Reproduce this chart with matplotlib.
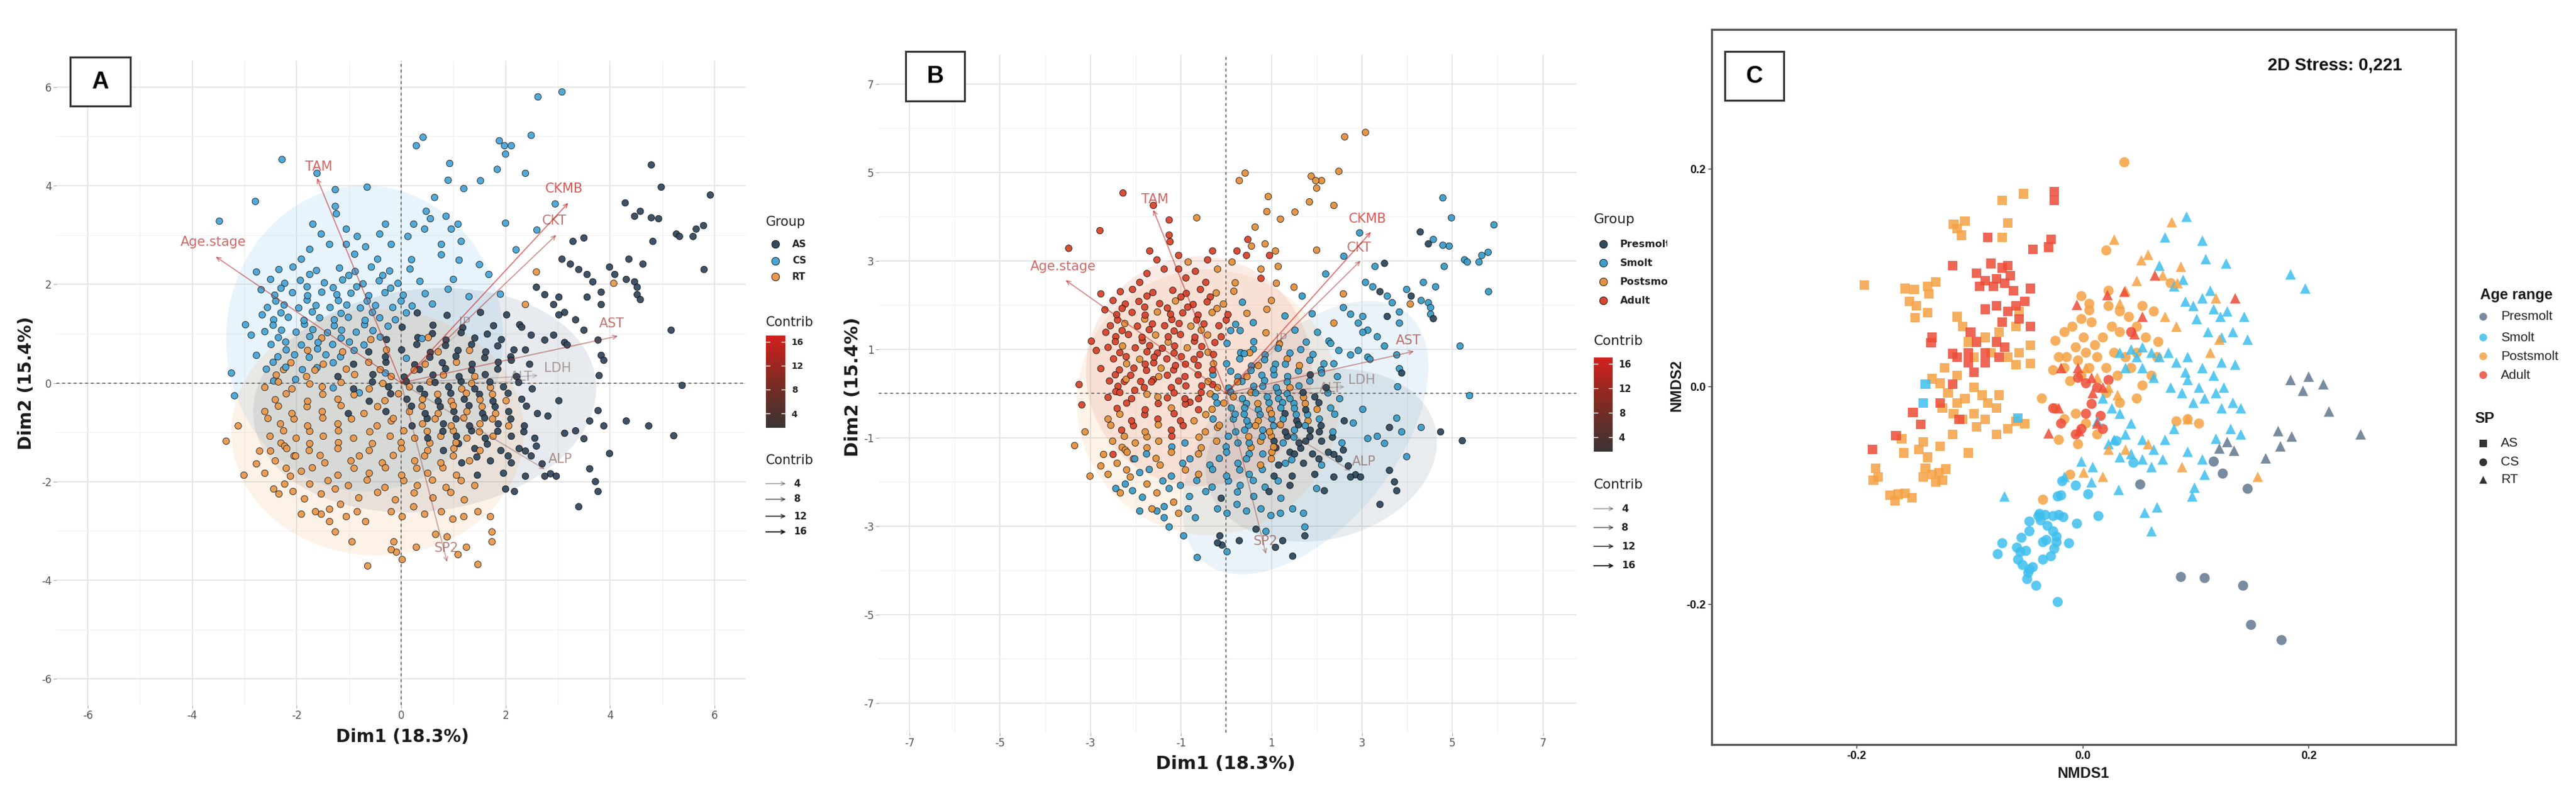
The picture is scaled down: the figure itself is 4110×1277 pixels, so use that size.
"""
Three-panel ordination figure: PCA biplot coloured by species (A), the same
PCA coloured by age stage (B) and an NMDS of the same fish (C).
Point coordinates were read off the published figure by eye.
"""
import numpy as np
import matplotlib
matplotlib.use("Agg")
import matplotlib.pyplot as plt
from matplotlib.patches import Ellipse, Rectangle
from matplotlib.colors import LinearSegmentedColormap, Normalize
from matplotlib.cm import ScalarMappable
from matplotlib.transforms import Bbox, TransformedBbox

plt.rcParams["axes.unicode_minus"] = False

# ---- PCA individuals: (Dim1, Dim2, age code) per species -----------------
# age codes: P = Presmolt, S = Smolt, O = Postsmolt, A = Adult
PCA_CS = [
    (-3.48, 3.28, 'A'), (-2.79, 3.68, 'A'), (-2.28, 4.53, 'A'), (-1.61, 4.25, 'A'),
    (-1.26, 3.92, 'A'), (-0.65, 3.97, 'O'), (-1.24, 3.43, 'A'), (-1.26, 3.58, 'A'),
    (-1.69, 3.22, 'A'), (-1.53, 3.02, 'A'), (-1.37, 2.81, 'A'), (-1.05, 3.12, 'A'),
    (-0.84, 2.97, 'O'), (-0.68, 2.76, 'A'), (-1.05, 2.81, 'A'), (-0.89, 2.61, 'A'),
    (-1.75, 2.71, 'A'), (-1.91, 2.51, 'A'), (-2.07, 2.35, 'A'), (-2.34, 2.30, 'A'),
    (-2.50, 2.10, 'A'), (-2.68, 1.89, 'A'), (-2.77, 2.25, 'A'), (-2.98, 1.18, 'A'),
    (-2.87, 0.97, 'A'), (-2.77, 0.56, 'A'), (-2.66, 1.38, 'A'), (-3.19, -0.26, 'A'),
    (-3.25, 0.20, 'A'), (-0.30, 3.22, 'A'), (-0.41, 3.02, 'A'), (-0.19, 2.81, 'O'),
    (-0.45, 2.51, 'A'),
    (0.29, 4.81, 'O'), (0.42, 4.98, 'O'), (0.93, 4.45, 'O'), (0.64, 3.76, 'O'),
    (0.90, 4.11, 'O'), (1.20, 3.94, 'O'), (1.52, 4.10, 'O'), (1.84, 4.33, 'O'),
    (1.88, 4.91, 'O'), (2.00, 4.64, 'O'), (1.98, 4.81, 'O'), (2.11, 4.81, 'O'),
    (2.38, 4.25, 'O'), (2.49, 5.02, 'O'), (2.62, 5.80, 'O'), (3.08, 5.90, 'O'),
    (2.95, 3.63, 'S'), (2.00, 3.24, 'O'), (1.68, 2.20, 'S'), (1.11, 2.49, 'O'),
    (0.77, 2.81, 'O'), (0.77, 2.60, 'A'), (1.15, 2.87, 'O'), (0.48, 3.48, 'A'),
    (0.56, 3.33, 'O'), (0.45, 3.12, 'A'), (0.86, 3.38, 'O'), (0.96, 3.12, 'A'),
    (1.09, 3.22, 'O'), (0.24, 3.22, 'A'), (0.13, 2.97, 'O'),
    (-1.62, 2.28, 'A'), (-1.18, 2.33, 'A'), (-0.88, 2.26, 'A'), (-0.57, 2.35, 'A'),
    (-0.22, 2.27, 'O'), (0.17, 2.31, 'O'), (-2.23, 2.02, 'A'), (-1.93, 2.08, 'A'),
    (-1.47, 2.03, 'A'), (-1.12, 2.09, 'O'), (-0.73, 2.01, 'A'), (-0.42, 2.07, 'A'),
    (-0.06, 2.02, 'O'), (0.36, 2.06, 'S'), (-2.42, 1.78, 'A'), (-2.08, 1.83, 'A'),
    (-1.79, 1.77, 'A'), (-1.52, 1.84, 'O'), (-1.23, 1.79, 'A'), (-0.96, 1.82, 'A'),
    (-0.62, 1.77, 'A'), (-0.31, 1.83, 'O'), (0.04, 1.78, 'A'), (0.46, 1.81, 'O'),
    (-2.56, 1.53, 'A'), (-2.24, 1.58, 'O'), (-1.96, 1.52, 'A'), (-1.63, 1.57, 'A'),
    (-1.36, 1.53, 'A'), (-1.04, 1.58, 'A'), (-0.78, 1.52, 'O'), (-0.49, 1.57, 'A'),
    (-0.16, 1.53, 'A'), (0.21, 1.56, 'S'), (-2.44, 1.28, 'A'), (-2.16, 1.33, 'A'),
    (-1.86, 1.27, 'A'), (-1.56, 1.32, 'O'), (-1.28, 1.28, 'A'), (-1.01, 1.33, 'A'),
    (-0.69, 1.27, 'A'), (-0.41, 1.32, 'O'), (-0.11, 1.28, 'A'), (-2.61, 1.04, 'A'),
    (-2.29, 1.07, 'O'), (-2.01, 1.03, 'A'), (-1.69, 1.08, 'A'), (-1.41, 1.02, 'A'),
    (-1.14, 1.07, 'A'), (-0.86, 1.03, 'O'), (-0.54, 1.06, 'A'), (-2.49, 0.78, 'A'),
    (-2.21, 0.83, 'A'), (-1.91, 0.77, 'O'), (-1.59, 0.82, 'A'), (-1.31, 0.78, 'A'),
    (-0.99, 0.83, 'A'), (-0.71, 0.77, 'A'), (-2.36, 0.53, 'A'), (-2.04, 0.57, 'A'),
    (-1.76, 0.52, 'A'), (-1.44, 0.57, 'O'), (-1.16, 0.53, 'A'), (-2.58, 0.28, 'A'),
    (-2.21, 0.32, 'O'), (-1.89, 0.27, 'A'), (-1.61, 0.31, 'A'), (-2.44, 0.04, 'A'),
    (-2.02, 0.07, 'A'),
    (0.60, 1.60, 'S'), (0.90, 1.90, 'O'), (1.30, 1.75, 'S'), (0.40, 0.90, 'S'),
    (-0.30, 0.20, 'A'), (0.10, 0.50, 'S'), (1.00, 2.10, 'O'), (-0.80, -0.20, 'A'),
    (-1.30, -0.10, 'A'), (1.90, 1.80, 'S'), (1.50, 2.40, 'O'), (0.20, 2.50, 'O'),
    (2.20, 2.70, 'S'), (2.60, 3.10, 'S'),
    (-2.30, 1.92, 'A'), (-1.80, 1.95, 'A'), (-1.30, 1.93, 'A'), (-0.85, 1.95, 'A'),
    (-0.20, 1.92, 'O'), (-2.40, 1.66, 'A'), (-1.80, 1.68, 'O'), (-1.20, 1.67, 'A'),
    (-0.65, 1.66, 'A'), (0.00, 1.66, 'A'), (-2.30, 1.42, 'A'), (-1.70, 1.44, 'A'),
    (-1.15, 1.41, 'A'), (-0.55, 1.43, 'O'), (0.10, 1.42, 'S'), (-2.45, 1.17, 'A'),
    (-1.85, 1.19, 'A'), (-1.28, 1.16, 'O'), (-0.70, 1.18, 'A'), (-0.25, 1.15, 'A'),
    (-2.35, 0.92, 'A'), (-1.75, 0.94, 'A'), (-1.15, 0.91, 'A'), (-0.40, 0.93, 'O'),
    (-2.20, 0.67, 'O'), (-1.60, 0.69, 'A'), (-0.90, 0.66, 'A'), (-2.45, 0.42, 'A'),
    (-1.30, 0.41, 'A'), (-1.00, 2.18, 'A'), (-0.35, 2.18, 'A'), (-1.75, 2.20, 'A'),
]

PCA_AS = [
    (4.79, 4.42, 'S'), (4.98, 3.97, 'S'), (5.92, 3.81, 'S'), (4.29, 3.65, 'P'),
    (4.47, 3.38, 'P'), (4.58, 3.48, 'S'), (4.79, 3.35, 'S'), (4.93, 3.33, 'S'),
    (3.50, 2.94, 'P'), (3.29, 2.87, 'S'), (4.82, 2.87, 'S'), (5.27, 3.02, 'S'),
    (5.33, 2.97, 'S'), (5.59, 2.97, 'S'), (5.65, 3.12, 'S'), (5.79, 3.19, 'S'),
    (5.80, 2.30, 'S'), (3.08, 2.51, 'S'), (3.24, 2.41, 'S'), (3.40, 2.30, 'P'),
    (3.56, 2.20, 'S'), (3.67, 2.05, 'S'), (3.99, 2.35, 'S'), (4.09, 2.20, 'P'),
    (4.31, 2.10, 'S'), (4.47, 2.05, 'S'), (4.52, 1.79, 'S'), (4.58, 1.69, 'P'),
    (4.36, 2.51, 'S'), (4.63, 2.41, 'S'), (4.52, 1.94, 'S'), (3.83, 1.84, 'S'),
    (3.56, 1.74, 'P'), (3.83, 1.59, 'S'), (5.17, 1.07, 'S'), (3.13, 1.43, 'S'),
    (3.34, 1.28, 'S'), (2.92, 1.59, 'S'), (2.75, 1.79, 'S'), (2.59, 1.94, 'S'),
    (3.02, 1.74, 'S'), (3.77, 0.87, 'S'), (3.83, 0.56, 'S'), (3.88, 0.46, 'P'),
    (3.13, 0.82, 'S'), (3.18, 0.77, 'S'), (2.92, 0.97, 'S'), (2.75, 0.87, 'S'),
    (5.38, -0.05, 'S'), (3.79, 0.15, 'S'), (3.77, -0.56, 'S'), (3.61, -0.77, 'P'),
    (3.88, -0.87, 'S'), (4.31, -0.77, 'S'), (4.74, -0.87, 'P'), (5.22, -1.07, 'P'),
    (3.34, -0.97, 'S'), (3.50, -1.13, 'S'), (3.99, -1.43, 'S'), (3.61, -1.74, 'P'),
    (3.72, -2.00, 'P'), (3.77, -2.20, 'P'), (3.40, -2.51, 'P'), (2.86, -1.84, 'P'),
    (2.97, -1.89, 'P'), (2.75, -1.89, 'P'), (2.17, -2.20, 'P'), (2.00, -2.15, 'S'),
    (2.38, -1.89, 'P'), (3.02, -0.36, 'S'), (2.81, -0.67, 'S'), (3.13, -1.02, 'S'),
    (2.59, -1.28, 'P'), (2.49, -1.48, 'P'), (2.70, -1.64, 'P'), (2.38, -1.38, 'P'),
    (2.27, 1.18, 'S'), (2.49, 0.97, 'S'), (2.38, 0.67, 'S'), (2.11, 0.46, 'S'),
    (3.02, 1.38, 'S'), (3.50, 1.07, 'S'),
    (0.31, 1.42, 'S'), (0.88, 1.37, 'O'), (1.52, 1.43, 'S'), (2.02, 1.38, 'S'),
    (0.02, 1.13, 'S'), (0.61, 1.17, 'S'), (1.18, 1.12, 'O'), (1.77, 1.16, 'S'),
    (2.31, 1.13, 'S'), (-0.28, 0.88, 'A'), (0.32, 0.92, 'S'), (0.86, 0.87, 'S'),
    (1.41, 0.91, 'S'), (1.92, 0.88, 'S'), (-0.62, 0.63, 'A'), (0.01, 0.67, 'S'),
    (0.56, 0.62, 'S'), (1.09, 0.66, 'S'), (1.62, 0.63, 'O'), (2.16, 0.67, 'S'),
    (-0.91, 0.38, 'A'), (-0.29, 0.42, 'S'), (0.26, 0.37, 'S'), (0.79, 0.41, 'S'),
    (1.36, 0.38, 'S'), (1.86, 0.42, 'P'), (2.46, 0.38, 'S'), (-1.21, 0.13, 'A'),
    (-0.54, 0.17, 'A'), (0.06, 0.12, 'S'), (0.61, 0.16, 'S'), (1.11, 0.13, 'S'),
    (1.61, 0.17, 'S'), (2.21, 0.13, 'P'), (-0.91, -0.12, 'A'), (-0.24, -0.08, 'S'),
    (0.36, -0.12, 'S'), (0.91, -0.08, 'S'), (1.41, -0.12, 'S'), (1.96, -0.08, 'P'),
    (2.51, -0.12, 'S'), (-0.61, -0.37, 'A'), (0.11, -0.33, 'S'), (0.71, -0.37, 'S'),
    (1.21, -0.33, 'S'), (1.76, -0.37, 'P'), (2.31, -0.33, 'S'), (-1.01, -0.62, 'A'),
    (-0.29, -0.58, 'S'), (0.46, -0.62, 'S'), (1.01, -0.58, 'S'), (1.56, -0.62, 'P'),
    (2.06, -0.58, 'S'), (2.61, -0.62, 'P'), (0.21, -0.87, 'S'), (0.81, -0.83, 'S'),
    (1.31, -0.87, 'P'), (1.86, -0.83, 'P'), (2.36, -0.87, 'S'), (0.51, -1.12, 'S'),
    (1.06, -1.08, 'P'), (1.61, -1.12, 'P'), (2.11, -1.08, 'P'), (2.56, -1.12, 'S'),
    (0.81, -1.37, 'S'), (1.41, -1.33, 'P'), (1.91, -1.37, 'P'), (2.26, -1.33, 'P'),
    (1.16, -1.62, 'P'), (1.71, -1.58, 'P'), (2.11, -1.62, 'S'), (1.46, -1.87, 'P'),
    (1.96, -1.83, 'P'),
    (0.60, 1.00, 'S'), (1.15, 1.02, 'S'), (1.65, 0.99, 'S'), (0.30, 0.78, 'S'),
    (0.85, 0.76, 'S'), (1.35, 0.78, 'O'), (1.85, 0.75, 'S'), (-0.30, 0.53, 'A'),
    (0.55, 0.52, 'S'), (1.05, 0.54, 'S'), (1.60, 0.51, 'S'), (2.10, 0.53, 'S'),
    (0.35, 0.27, 'S'), (0.85, 0.29, 'S'), (1.35, 0.26, 'S'), (1.85, 0.28, 'S'),
    (-0.55, 0.02, 'A'), (0.10, 0.03, 'S'), (0.65, 0.01, 'S'), (1.15, 0.03, 'S'),
    (1.70, 0.02, 'P'), (2.25, 0.01, 'S'), (-0.20, -0.22, 'S'), (0.45, -0.23, 'S'),
    (0.95, -0.21, 'S'), (1.50, -0.23, 'S'), (2.05, -0.21, 'P'), (0.20, -0.47, 'S'),
    (0.75, -0.48, 'S'), (1.30, -0.46, 'P'), (1.80, -0.48, 'S'), (2.40, -0.47, 'S'),
    (0.50, -0.72, 'S'), (1.05, -0.73, 'S'), (1.60, -0.71, 'P'), (2.10, -0.73, 'P'),
    (0.80, -0.98, 'S'), (1.35, -0.97, 'P'), (1.85, -0.98, 'P'), (2.35, -0.99, 'P'),
    (1.10, -1.23, 'P'), (1.65, -1.24, 'P'), (2.05, -1.48, 'P'), (1.45, -1.50, 'S'),
]

PCA_RT = [
    (-3.35, -1.18, 'O'), (-3.12, -0.87, 'O'), (-3.01, -1.87, 'O'), (-2.77, -1.64, 'O'),
    (-2.44, -2.15, 'S'), (-2.34, -2.25, 'O'), (-2.23, -2.05, 'S'), (-2.71, -1.38, 'O'),
    (-2.50, -1.38, 'A'), (-2.23, -1.28, 'O'), (-2.02, -1.48, 'S'), (-2.12, -1.89, 'O'),
    (-1.91, -1.79, 'S'), (-1.75, -2.05, 'O'), (-2.07, -2.20, 'S'), (-1.85, -2.35, 'S'),
    (-1.53, -2.25, 'O'), (-1.26, -2.15, 'S'), (-1.37, -2.56, 'S'), (-1.16, -2.46, 'O'),
    (-1.53, -2.66, 'S'), (-1.64, -2.61, 'O'), (-1.91, -2.66, 'S'), (-1.37, -2.81, 'S'),
    (-1.05, -2.71, 'O'), (-1.26, -3.02, 'S'), (-0.84, -2.61, 'S'), (-0.68, -2.81, 'S'),
    (-0.94, -3.22, 'S'), (-0.64, -3.71, 'S'), (-0.19, -3.38, 'P'), (-0.09, -3.43, 'P'),
    (-0.14, -3.22, 'P'), (0.02, -3.58, 'S'), (0.29, -3.33, 'P'), (0.66, -3.07, 'P'),
    (0.88, -3.12, 'S'), (1.09, -3.48, 'P'), (1.25, -3.33, 'P'), (1.47, -3.68, 'P'),
    (1.74, -3.02, 'S'), (1.74, -3.22, 'P'), (1.71, -2.71, 'S'), (1.47, -2.61, 'S'),
    (1.20, -2.71, 'S'), (0.99, -2.76, 'S'), (0.77, -2.61, 'S'), (0.45, -2.66, 'S'),
    (0.24, -2.51, 'S'), (0.02, -2.71, 'S'), (-0.19, -2.61, 'S'), (2.59, 2.25, 'O'),
    (4.07, 2.02, 'O'), (2.38, 1.59, 'O'), (-0.19, -0.77, 'O'),
    (-1.52, 0.91, 'A'), (-0.58, 0.88, 'A'), (0.52, 0.92, 'O'), (-1.79, 0.66, 'A'),
    (-1.12, 0.63, 'A'), (-0.28, 0.67, 'O'), (0.71, 0.63, 'O'), (1.31, 0.66, 'S'),
    (-2.11, 0.41, 'A'), (-1.49, 0.38, 'O'), (-0.62, 0.42, 'A'), (0.46, 0.38, 'O'),
    (1.06, 0.42, 'S'), (-2.39, 0.16, 'A'), (-1.81, 0.13, 'A'), (-0.89, 0.17, 'A'),
    (-0.19, 0.13, 'O'), (0.81, 0.16, 'S'), (1.41, 0.13, 'O'), (-2.61, -0.09, 'A'),
    (-2.09, -0.12, 'A'), (-1.51, -0.08, 'O'), (-0.61, -0.12, 'A'), (0.16, -0.08, 'O'),
    (1.16, -0.12, 'S'), (1.71, -0.09, 'O'), (-2.41, -0.34, 'A'), (-1.79, -0.37, 'A'),
    (-1.21, -0.33, 'O'), (-0.31, -0.36, 'O'), (0.41, -0.33, 'S'), (0.96, -0.37, 'O'),
    (1.51, -0.34, 'S'), (2.01, -0.36, 'O'), (-2.61, -0.58, 'O'), (-2.09, -0.62, 'A'),
    (-1.51, -0.58, 'A'), (-0.71, -0.62, 'O'), (0.16, -0.58, 'S'), (0.71, -0.62, 'O'),
    (1.26, -0.58, 'S'), (1.81, -0.62, 'O'), (-2.31, -0.83, 'A'), (-1.79, -0.87, 'O'),
    (-1.21, -0.83, 'A'), (-0.46, -0.87, 'O'), (0.41, -0.83, 'S'), (0.96, -0.87, 'O'),
    (1.51, -0.83, 'S'), (2.06, -0.87, 'P'), (-2.51, -1.08, 'O'), (-2.01, -1.12, 'O'),
    (-1.49, -1.08, 'O'), (-0.91, -1.12, 'S'), (-0.21, -1.08, 'O'), (0.26, -1.12, 'S'),
    (0.76, -1.08, 'O'), (1.26, -1.12, 'S'), (1.76, -1.08, 'P'), (-2.19, -1.33, 'O'),
    (-1.76, -1.37, 'S'), (-1.21, -1.33, 'O'), (-0.61, -1.37, 'O'), (0.01, -1.33, 'S'),
    (0.51, -1.37, 'S'), (1.01, -1.33, 'O'), (1.51, -1.37, 'P'), (-2.41, -1.58, 'O'),
    (-1.46, -1.62, 'O'), (-0.96, -1.58, 'S'), (-0.36, -1.62, 'S'), (0.26, -1.58, 'S'),
    (0.76, -1.62, 'O'), (1.31, -1.58, 'S'), (-2.61, -1.83, 'O'), (-1.21, -1.87, 'S'),
    (-0.61, -1.83, 'O'), (0.01, -1.87, 'S'), (0.51, -1.83, 'S'), (1.06, -1.87, 'P'),
    (-1.01, -2.08, 'S'), (-0.31, -2.12, 'S'), (0.31, -2.08, 'S'), (0.86, -2.12, 'S'),
    (1.41, -2.08, 'P'), (-0.81, -2.33, 'S'), (-0.11, -2.37, 'P'), (0.61, -2.33, 'S'),
    (1.21, -2.37, 'S'),
    (-2.25, 0.27, 'A'), (-1.65, 0.26, 'A'), (-1.05, 0.28, 'A'), (-0.40, 0.27, 'O'),
    (0.25, 0.26, 'O'), (-2.35, 0.02, 'A'), (-1.75, -0.02, 'O'), (-1.15, 0.01, 'A'),
    (-0.35, -0.01, 'O'), (0.55, 0.02, 'O'), (1.35, -0.01, 'S'), (-2.20, -0.22, 'A'),
    (-1.50, -0.23, 'A'), (-0.90, -0.24, 'A'), (-0.05, -0.22, 'O'), (0.70, -0.23, 'O'),
    (1.25, -0.21, 'S'), (1.75, -0.23, 'O'), (-2.35, -0.47, 'O'), (-1.80, -0.48, 'A'),
    (-1.15, -0.46, 'A'), (-0.45, -0.48, 'O'), (0.40, -0.47, 'S'), (1.00, -0.46, 'O'),
    (1.55, -0.48, 'S'), (-2.55, -0.72, 'O'), (-2.05, -0.73, 'A'), (-1.50, -0.71, 'O'),
    (-0.95, -0.73, 'A'), (-0.15, -0.72, 'O'), (0.65, -0.73, 'O'), (1.20, -0.71, 'O'),
    (1.75, -0.73, 'S'), (-2.25, -0.97, 'O'), (-1.75, -0.98, 'O'), (-1.20, -0.97, 'A'),
    (-0.60, -0.99, 'O'), (0.05, -0.97, 'S'), (0.50, -0.98, 'O'), (1.00, -0.97, 'O'),
    (1.50, -0.99, 'S'), (-2.30, -1.22, 'O'), (-1.75, -1.23, 'O'), (-1.20, -1.21, 'S'),
    (-0.55, -1.23, 'O'), (0.00, -1.21, 'S'), (0.55, -1.22, 'O'), (1.05, -1.21, 'O'),
    (-2.05, -1.48, 'O'), (-1.55, -1.47, 'O'), (-0.80, -1.48, 'S'), (-0.15, -1.47, 'S'),
    (0.45, -1.48, 'S'), (1.00, -1.48, 'O'), (-2.20, -1.73, 'O'), (-1.70, -1.72, 'S'),
    (-0.90, -1.73, 'O'), (-0.30, -1.72, 'S'), (0.30, -1.73, 'S'), (0.80, -1.72, 'S'),
    (-1.40, -1.98, 'S'), (-0.65, -1.97, 'S'), (0.05, -1.98, 'S'), (0.60, -1.97, 'S'),
    (1.15, -1.98, 'S'), (-0.45, -2.22, 'S'), (0.25, -2.23, 'S'), (0.95, -2.22, 'P'),
]

# ---- PCA variables (arrow tips, label positions, contribution %) --------
VAR_NAMES = ['Age.stage', 'TAM', 'CKMB', 'CKT', 'AST', 'LDH', 'ALT', 'IP', 'ALP', 'SP2']
VAR_TIP_X = [-3.55, -1.61, 3.20, 2.97, 4.15, 2.62, 2.30, 1.15, 2.75, 0.88]
VAR_TIP_Y = [2.56, 4.15, 3.65, 3.00, 0.95, 0.15, 0.02, 1.05, -1.75, -3.63]
VAR_LAB_X = [-3.60, -1.58, 3.12, 2.94, 4.03, 3.00, 2.30, 1.22, 3.05, 0.87]
VAR_LAB_Y = [2.86, 4.38, 3.94, 3.29, 1.20, 0.30, 0.12, 1.22, -1.55, -3.35]
VAR_CONTRIB = [14.1, 15.2, 16.7, 12.9, 12.3, 5.3, 4.0, 1.9, 7.7, 10.1]

# ---- concentration ellipses (centre, width, height, angle) -------------
A_ELL_GROUPS = ['AS', 'CS', 'RT']
A_ELL_CX = [0.45, -0.70, -0.45]
A_ELL_CY = [-0.35, 0.90, -1.00]
A_ELL_W = [6.6, 5.3, 5.6]
A_ELL_H = [4.5, 6.2, 5.0]
A_ELL_ANG = [8, 0, 0]

B_ELL_GROUPS = ['P', 'S', 'O', 'A']
B_ELL_CX = [2.10, 1.75, -0.40, -0.60]
B_ELL_CY = [-1.40, -1.00, -0.20, 0.50]
B_ELL_W = [5.2, 7.2, 5.8, 5.0]
B_ELL_H = [3.8, 4.0, 6.0, 5.2]
B_ELL_ANG = [15, 52, 0, 0]

# ---- NMDS scores: (NMDS1, NMDS2, age code) per species -----------------
NMDS_AS = [
    (-0.193, 0.093, 'O'), (-0.157, 0.090, 'O'), (-0.149, 0.089, 'O'), (-0.153, 0.078, 'O'),
    (-0.147, 0.074, 'O'), (-0.148, 0.063, 'O'), (-0.137, 0.092, 'O'), (-0.130, 0.096, 'O'),
    (-0.136, 0.085, 'O'), (-0.137, 0.068, 'O'), (-0.114, 0.149, 'O'), (-0.104, 0.152, 'O'),
    (-0.107, 0.139, 'O'), (-0.111, 0.145, 'O'), (-0.071, 0.171, 'O'), (-0.052, 0.177, 'O'),
    (-0.066, 0.150, 'O'), (-0.071, 0.137, 'O'), (-0.133, 0.007, 'O'), (-0.126, 0.003, 'O'),
    (-0.119, -0.006, 'O'), (-0.124, -0.020, 'O'), (-0.111, -0.015, 'O'), (-0.104, -0.011, 'O'),
    (-0.114, -0.025, 'O'), (-0.106, -0.030, 'O'), (-0.096, -0.025, 'O'), (-0.096, -0.001, 'O'),
    (-0.089, -0.008, 'O'), (-0.084, -0.015, 'O'), (-0.076, -0.020, 'O'), (-0.074, -0.008, 'O'),
    (-0.086, -0.030, 'O'), (-0.094, -0.037, 'O'), (-0.076, -0.044, 'O'), (-0.059, 0.020, 'O'),
    (-0.056, 0.031, 'O'), (-0.066, 0.027, 'O'), (-0.046, 0.021, 'O'), (-0.086, 0.045, 'O'),
    (-0.081, 0.031, 'O'), (-0.074, 0.050, 'O'), (-0.160, -0.048, 'O'), (-0.158, -0.061, 'O'),
    (-0.145, -0.058, 'O'), (-0.141, -0.051, 'O'), (-0.137, -0.065, 'O'), (-0.139, -0.075, 'O'),
    (-0.141, -0.083, 'O'), (-0.133, -0.081, 'O'), (-0.127, -0.079, 'O'), (-0.121, -0.076, 'O'),
    (-0.124, -0.086, 'O'), (-0.130, -0.088, 'O'), (-0.183, -0.075, 'O'), (-0.181, -0.083, 'O'),
    (-0.185, -0.086, 'O'), (-0.170, -0.100, 'O'), (-0.163, -0.099, 'O'), (-0.157, -0.098, 'O'),
    (-0.166, -0.105, 'O'), (-0.151, -0.102, 'O'), (-0.101, -0.061, 'O'), (-0.115, -0.044, 'O'),
    (-0.126, -0.055, 'O'), (-0.059, -0.032, 'O'), (-0.051, -0.034, 'O'), (-0.066, -0.039, 'O'),
    (-0.111, 0.064, 'O'), (-0.106, 0.055, 'O'), (-0.101, 0.041, 'O'), (-0.096, 0.027, 'O'),
    (-0.056, 0.069, 'O'), (-0.059, 0.055, 'O'), (-0.046, 0.038, 'O'), (-0.122, 0.017, 'O'),
    (-0.111, 0.010, 'O'),
    (-0.025, 0.179, 'A'), (-0.025, 0.171, 'A'), (-0.044, 0.126, 'A'), (-0.030, 0.128, 'A'),
    (-0.028, 0.135, 'A'), (-0.084, 0.137, 'A'), (-0.115, 0.111, 'A'), (-0.094, 0.104, 'A'),
    (-0.086, 0.097, 'A'), (-0.076, 0.099, 'A'), (-0.066, 0.111, 'A'), (-0.064, 0.102, 'A'),
    (-0.071, 0.109, 'A'), (-0.081, 0.113, 'A'), (-0.091, 0.092, 'A'), (-0.079, 0.092, 'A'),
    (-0.069, 0.095, 'A'), (-0.061, 0.088, 'A'), (-0.046, 0.090, 'A'), (-0.059, 0.074, 'A'),
    (-0.051, 0.078, 'A'), (-0.066, 0.069, 'A'), (-0.056, 0.062, 'A'), (-0.046, 0.055, 'A'),
    (-0.071, 0.059, 'A'), (-0.076, 0.074, 'A'), (-0.086, 0.071, 'A'), (-0.099, 0.050, 'A'),
    (-0.094, 0.041, 'A'), (-0.101, 0.031, 'A'), (-0.086, 0.031, 'A'), (-0.076, 0.041, 'A'),
    (-0.069, 0.036, 'A'), (-0.074, 0.027, 'A'), (-0.086, 0.022, 'A'), (-0.101, 0.022, 'A'),
    (-0.096, 0.013, 'A'), (-0.111, 0.027, 'A'), (-0.133, 0.045, 'A'), (-0.134, 0.040, 'A'),
    (-0.115, 0.030, 'A'), (-0.150, -0.024, 'A'), (-0.143, -0.035, 'A'), (-0.165, -0.045, 'A'),
    (-0.186, -0.058, 'A'), (-0.109, -0.030, 'A'), (-0.115, 0.002, 'A'), (-0.126, -0.015, 'A'),
    (-0.141, -0.015, 'S'), (-0.139, 0.002, 'S'), (-0.057, -0.029, 'S'),
]

NMDS_CS = [
    (0.037, 0.206, 'O'), (-0.024, 0.042, 'O'), (-0.016, 0.050, 'O'), (-0.009, 0.055, 'O'),
    (-0.001, 0.062, 'O'), (0.006, 0.070, 'O'), (0.008, 0.059, 'O'), (0.001, 0.045, 'O'),
    (-0.006, 0.036, 'O'), (-0.014, 0.027, 'O'), (-0.004, 0.024, 'O'), (0.003, 0.031, 'O'),
    (0.011, 0.038, 'O'), (0.018, 0.045, 'O'), (0.013, 0.027, 'O'), (0.006, 0.017, 'O'),
    (-0.001, 0.010, 'O'), (-0.016, 0.017, 'O'), (-0.011, 0.005, 'O'), (-0.021, 0.027, 'O'),
    (-0.026, 0.015, 'O'), (0.023, 0.074, 'O'), (0.033, 0.069, 'O'), (0.026, 0.055, 'O'),
    (0.033, 0.050, 'O'), (0.041, 0.064, 'O'), (0.048, 0.055, 'O'), (0.053, 0.074, 'O'),
    (0.063, 0.069, 'O'), (0.056, 0.045, 'O'), (0.048, 0.031, 'O'), (0.038, 0.027, 'O'),
    (0.028, 0.031, 'O'), (0.021, 0.017, 'O'), (0.031, 0.010, 'O'), (0.043, 0.017, 'O'),
    (0.067, 0.041, 'O'), (0.066, 0.027, 'O'), (0.061, 0.010, 'O'), (0.053, 0.001, 'O'),
    (0.048, -0.011, 'O'), (0.033, -0.015, 'O'), (0.021, -0.006, 'O'), (-0.036, -0.011, 'O'),
    (-0.024, -0.020, 'O'), (-0.016, -0.030, 'O'), (-0.006, -0.025, 'O'), (0.003, -0.034, 'O'),
    (0.013, -0.044, 'O'), (-0.004, -0.053, 'O'), (-0.021, -0.049, 'O'), (0.083, -0.032, 'O'),
    (0.093, -0.030, 'O'), (0.103, -0.034, 'O'), (0.023, 0.088, 'O'), (0.021, 0.125, 'O'),
    (0.006, 0.076, 'O'), (-0.001, 0.083, 'O'), (-0.035, -0.104, 'O'), (-0.011, -0.081, 'O'),
    (0.078, 0.095, 'O'),
    (-0.004, 0.008, 'A'), (0.003, 0.003, 'A'), (0.013, -0.001, 'A'), (0.023, 0.006, 'A'),
    (0.008, -0.016, 'A'), (0.016, -0.027, 'A'), (0.003, -0.025, 'A'), (-0.001, -0.039, 'A'),
    (0.018, -0.039, 'A'), (-0.026, -0.020, 'A'), (-0.019, -0.034, 'A'), (-0.006, -0.044, 'A'),
    (0.043, 0.050, 'A'),
    (-0.018, -0.087, 'S'), (-0.022, -0.101, 'S'), (0.005, -0.099, 'S'), (0.014, -0.119, 'S'),
    (-0.005, -0.126, 'S'), (-0.012, -0.144, 'S'), (-0.071, -0.144, 'S'), (-0.075, -0.154, 'S'),
    (-0.022, -0.198, 'S'), (-0.041, -0.183, 'S'), (-0.049, -0.177, 'S'), (-0.038, -0.117, 'S'),
    (-0.033, -0.118, 'S'), (-0.026, -0.119, 'S'), (-0.021, -0.118, 'S'), (-0.017, -0.120, 'S'),
    (-0.047, -0.124, 'S'), (-0.037, -0.123, 'S'), (-0.031, -0.128, 'S'), (-0.026, -0.133, 'S'),
    (-0.023, -0.138, 'S'), (-0.023, -0.143, 'S'), (-0.025, -0.149, 'S'), (-0.028, -0.156, 'S'),
    (-0.035, -0.159, 'S'), (-0.035, -0.143, 'S'), (-0.032, -0.141, 'S'), (-0.054, -0.139, 'S'),
    (-0.058, -0.148, 'S'), (-0.055, -0.152, 'S'), (-0.050, -0.151, 'S'), (-0.057, -0.159, 'S'),
    (-0.053, -0.164, 'S'), (-0.047, -0.168, 'S'), (-0.044, -0.166, 'S'), (-0.048, -0.171, 'S'),
    (-0.039, -0.119, 'S'), (-0.047, -0.133, 'S'), (-0.019, -0.100, 'S'), (-0.006, -0.091, 'S'),
    (0.030, -0.050, 'S'), (0.045, -0.070, 'S'),
    (0.087, -0.175, 'P'), (0.108, -0.176, 'P'), (0.142, -0.183, 'P'), (0.149, -0.219, 'P'),
    (0.176, -0.233, 'P'), (0.146, -0.094, 'P'), (0.124, -0.080, 'P'), (0.116, -0.069, 'P'),
    (0.051, -0.090, 'P'),
]

NMDS_RT = [
    (0.092, 0.156, 'S'), (0.073, 0.137, 'S'), (0.106, 0.134, 'S'), (0.127, 0.113, 'S'),
    (0.109, 0.117, 'S'), (0.068, 0.111, 'S'), (0.089, 0.098, 'S'), (0.081, 0.092, 'S'),
    (0.091, 0.078, 'S'), (0.098, 0.074, 'S'), (0.106, 0.081, 'S'), (0.113, 0.088, 'S'),
    (0.116, 0.071, 'S'), (0.122, 0.064, 'S'), (0.128, 0.069, 'S'), (0.143, 0.064, 'S'),
    (0.146, 0.043, 'S'), (0.133, 0.050, 'S'), (0.123, 0.045, 'S'), (0.111, 0.050, 'S'),
    (0.101, 0.062, 'S'), (0.184, 0.103, 'S'), (0.197, 0.090, 'S'), (0.033, 0.031, 'S'),
    (0.043, 0.034, 'S'), (0.053, 0.036, 'S'), (0.061, 0.031, 'S'), (0.068, 0.027, 'S'),
    (0.048, 0.027, 'S'), (0.038, 0.017, 'S'), (0.053, 0.017, 'S'), (0.063, 0.008, 'S'),
    (0.076, 0.031, 'S'), (0.083, 0.022, 'S'), (0.091, 0.013, 'S'), (0.078, -0.001, 'S'),
    (0.088, -0.006, 'S'), (0.098, -0.015, 'S'), (0.093, 0.006, 'S'), (0.103, -0.001, 'S'),
    (0.108, -0.011, 'S'), (0.118, -0.006, 'S'), (0.125, -0.001, 'S'), (0.123, -0.020, 'S'),
    (0.133, -0.015, 'S'), (0.140, -0.020, 'S'), (0.123, 0.022, 'S'), (0.135, 0.020, 'S'),
    (0.116, 0.010, 'S'), (0.106, 0.017, 'S'), (0.093, 0.027, 'S'), (0.033, -0.025, 'S'),
    (0.043, -0.034, 'S'), (0.038, -0.044, 'S'), (0.028, -0.049, 'S'), (0.053, -0.049, 'S'),
    (0.063, -0.058, 'S'), (0.071, -0.067, 'S'), (0.061, -0.074, 'S'), (0.073, -0.049, 'S'),
    (0.043, -0.062, 'S'), (0.033, -0.065, 'S'), (0.023, -0.053, 'S'), (0.053, -0.067, 'S'),
    (0.009, -0.074, 'S'), (-0.001, -0.069, 'S'), (-0.016, -0.083, 'S'), (0.032, -0.095, 'S'),
    (0.055, -0.116, 'S'), (0.066, -0.111, 'S'), (0.061, -0.133, 'S'), (0.099, -0.093, 'S'),
    (0.097, -0.101, 'S'), (0.093, -0.060, 'S'), (0.081, -0.039, 'S'), (-0.069, -0.101, 'S'),
    (0.106, -0.067, 'S'), (0.108, -0.081, 'S'), (0.018, -0.011, 'S'), (0.026, -0.020, 'S'),
    (0.013, -0.032, 'S'), (0.131, -0.039, 'S'), (0.140, -0.044, 'S'), (0.118, -0.048, 'S'),
    (0.008, -0.088, 'S'),
    (0.079, 0.151, 'O'), (0.028, 0.135, 'O'), (0.052, 0.116, 'O'), (0.058, 0.121, 'O'),
    (0.087, 0.110, 'O'), (0.084, 0.095, 'O'), (0.048, 0.097, 'O'), (0.038, 0.088, 'O'),
    (0.033, 0.076, 'O'), (0.071, 0.102, 'O'), (0.118, 0.081, 'O'), (0.121, 0.043, 'O'),
    (0.113, 0.031, 'O'), (0.083, 0.055, 'O'), (0.073, 0.064, 'O'), (0.093, -0.030, 'O'),
    (0.088, -0.074, 'O'), (0.155, -0.083, 'O'), (0.018, -0.083, 'O'), (0.001, -0.079, 'O'),
    (0.038, -0.058, 'O'), (0.023, -0.058, 'O'), (0.058, -0.053, 'O'), (0.003, 0.017, 'O'),
    (0.013, 0.008, 'O'), (0.023, -0.001, 'O'), (0.031, -0.008, 'O'),
    (-0.005, 0.075, 'A'), (0.022, 0.084, 'A'), (0.037, 0.087, 'A'), (0.064, 0.102, 'A'),
    (0.135, 0.081, 'A'), (0.053, 0.064, 'A'), (0.046, 0.048, 'A'), (-0.004, 0.017, 'A'),
    (0.018, -0.001, 'A'), (0.009, -0.006, 'A'), (-0.021, -0.020, 'A'), (-0.030, -0.043, 'A'),
    (-0.003, -0.041, 'A'), (0.013, -0.034, 'A'), (-0.019, 0.017, 'A'), (0.008, 0.008, 'A'),
    (0.184, 0.006, 'P'), (0.200, 0.009, 'P'), (0.213, 0.002, 'P'), (0.195, -0.004, 'P'),
    (0.218, -0.023, 'P'), (0.246, -0.044, 'P'), (0.173, -0.041, 'P'), (0.185, -0.046, 'P'),
    (0.175, -0.055, 'P'), (0.162, -0.066, 'P'), (0.128, -0.051, 'P'), (0.121, -0.057, 'P'),
    (0.134, -0.059, 'P'),
]

SPECIES = ['AS', 'CS', 'RT']
AGE_CODES = ['P', 'S', 'O', 'A']
AGE_LABELS = ['Presmolt', 'Smolt', 'Postsmolt', 'Adult']

# ---- styling -------------------------------------------------------------
SP_COLORS = {'AS': '#34495E', 'CS': '#4AA6D6', 'RT': '#E8994F'}
SP_ELL_COLORS = {'AS': '#56708A', 'CS': '#5BB8E6', 'RT': '#F2A45E'}
AGE_COLORS_B = {'P': '#2F4A5F', 'S': '#3C9DC8', 'O': '#E3923F', 'A': '#D8452D'}
AGE_ELL_COLORS_B = {'P': '#5A7288', 'S': '#5AA9D2', 'O': '#F0A55A', 'A': '#E4654A'}
AGE_COLORS_C = {'P': '#62788E', 'S': '#3DBFEE', 'O': '#F5A143', 'A': '#EE4B37'}
SP_MARKERS_C = {'AS': 's', 'CS': 'o', 'RT': '^'}
SP_SIZES_C = {'AS': 120, 'CS': 135, 'RT': 145}

CMAP = LinearSegmentedColormap.from_list('contrib', ['#3A3434', '#7D2B22', '#D3201D'])
NORM = Normalize(1.6, 17.0)
ARIAL = 'Liberation Sans'

W, H = 4110, 1277


def contrib_alpha(c, lo=0.12, span=0.5):
    return lo + span * (c - NORM.vmin) / (NORM.vmax - NORM.vmin)


def rect(x0, y0, x1, y1):
    """Pixel box (top-left origin) -> figure fraction [left, bottom, w, h]."""
    return [x0 / W, 1 - y1 / H, (x1 - x0) / W, (y1 - y0) / H]


def pca_table():
    rows = [(x, y, sp, age) for sp, pts in zip(SPECIES, [PCA_AS, PCA_CS, PCA_RT])
            for x, y, age in pts]
    x = np.array([r[0] for r in rows])
    y = np.array([r[1] for r in rows])
    sp = np.array([r[2] for r in rows])
    age = np.array([r[3] for r in rows])
    order = np.argsort((x * 7.31 + y * 3.17) % 1.0)  # interleave groups when drawing
    return x[order], y[order], sp[order], age[order]


def style_pca(ax, lim_x, lim_y, major, minor):
    ax.set_xlim(*lim_x)
    ax.set_ylim(*lim_y)
    ax.set_xticks(major)
    ax.set_yticks(major)
    ax.set_xticks(minor, minor=True)
    ax.set_yticks(minor, minor=True)
    ax.grid(which='major', color='#E4E4E4', lw=1.3)
    ax.grid(which='minor', color='#F1F1F1', lw=0.9)
    ax.set_axisbelow(True)
    for s in ax.spines.values():
        s.set_visible(False)
    ax.tick_params(which='major', length=3.5, width=0.8, color='#AAAAAA',
                   labelsize=12, labelcolor='#555555', pad=2)
    ax.tick_params(which='minor', length=0)
    ax.axhline(0, color='#555555', lw=1.1, ls=(0, (3, 3)), zorder=1.5)
    ax.axvline(0, color='#555555', lw=1.1, ls=(0, (3, 3)), zorder=1.5)


def draw_variables(ax):
    for name, tx, ty, lx, ly, c in zip(VAR_NAMES, VAR_TIP_X, VAR_TIP_Y,
                                       VAR_LAB_X, VAR_LAB_Y, VAR_CONTRIB):
        col = CMAP(NORM(c))
        ax.annotate('', xy=(tx, ty), xytext=(0, 0), zorder=4,
                    arrowprops=dict(arrowstyle='->,head_length=0.45,head_width=0.22',
                                    color=col, alpha=contrib_alpha(c), lw=1.3,
                                    shrinkA=0, shrinkB=0))
        ax.text(lx, ly, name, color=col, alpha=contrib_alpha(c, 0.35, 0.4), fontsize=15,
                ha='center', va='center', zorder=5)


def set_labels(ax, xlabel, ylabel, xpos, ypos, size, family=None):
    kw = dict(fontsize=size, fontweight='bold', color='#1A1A1A')
    if family:
        kw['family'] = family
    ax.set_xlabel(xlabel, **kw)
    ax.set_ylabel(ylabel, **kw)
    ax.xaxis.set_label_coords(*xpos)
    ax.yaxis.set_label_coords(*ypos)
    ax.xaxis.label.set_va('center')
    ax.yaxis.label.set_va('center')


def clip_text(t, clip_x):
    if clip_x is not None:
        t.set_clip_box(TransformedBbox(Bbox([[0, 0], [clip_x / W, 1]]), fig.transFigure))
        t.set_clip_on(True)


def pca_legend(ov, x0, y_title, item_ys, labels, colors, cbar_box, cb_title_y,
               arrow_title_y, arrow_ys, title_fs, item_fs, clip_x=None):
    ov.text(x0, y_title, 'Group', fontsize=title_fs, color='#222222', va='center')
    for y, lab, col in zip(item_ys, labels, colors):
        ov.scatter([x0 + 15], [y], s=80, c=[col], edgecolors='black', linewidths=0.6)
        t = ov.text(x0 + 42, y, lab, fontsize=item_fs, fontweight='bold',
                    color='#222222', va='center')
        clip_text(t, clip_x)
    ov.text(x0, cb_title_y, 'Contrib', fontsize=title_fs, color='#222222', va='center')
    cax = fig.add_axes(rect(*cbar_box))
    cb = fig.colorbar(ScalarMappable(NORM, CMAP), cax=cax, ticks=[4, 8, 12, 16])
    cb.outline.set_visible(False)
    cax.tick_params(length=0, pad=7, labelsize=item_fs - 1, labelcolor='#222222')
    for lbl in cax.get_yticklabels():
        lbl.set_fontweight('bold')
    for v in [4, 8, 12, 16]:
        cax.plot([0, 0.2], [v, v], color='white', lw=1)
        cax.plot([0.8, 1], [v, v], color='white', lw=1)
    ov.text(x0, arrow_title_y, 'Contrib', fontsize=title_fs, color='#222222', va='center')
    for y, v in zip(arrow_ys, [4, 8, 12, 16]):
        ov.annotate('', xy=(x0 + 32, y), xytext=(x0, y),
                    arrowprops=dict(arrowstyle='->,head_length=0.4,head_width=0.2',
                                    color='black', alpha=contrib_alpha(v, 0.2, 0.7), lw=1.4,
                                    shrinkA=0, shrinkB=0))
        ov.text(x0 + 44, y, str(v), fontsize=item_fs, fontweight='bold',
                color='#222222', va='center')


def panel_tag(ov, x0, y0, w, h, letter):
    ov.add_patch(Rectangle((x0, y0), w, h, facecolor='white', edgecolor='#333333',
                           lw=2.2, zorder=20))
    ov.text(x0 + w / 2, y0 + h / 2 + 1, letter, fontsize=27, fontweight='bold',
            family=ARIAL, ha='center', va='center', zorder=21)


fig = plt.figure(figsize=(W / 100, H / 100), dpi=100)
fig.patch.set_facecolor('white')

px, py, psp, page = pca_table()

# ---- A: PCA coloured by species ------------------------------------------
axA = fig.add_axes(rect(90, 97, 1190, 1124))
style_pca(axA, (-6.6, 6.6), (-6.53, 6.53), np.arange(-6, 7, 2), np.arange(-5, 6, 2))
for g, cx, cy, w, h, ang in zip(A_ELL_GROUPS, A_ELL_CX, A_ELL_CY, A_ELL_W, A_ELL_H, A_ELL_ANG):
    axA.add_patch(Ellipse((cx, cy), w, h, angle=ang, facecolor=SP_ELL_COLORS[g],
                          edgecolor='none', alpha=0.14, zorder=1))
axA.scatter(px, py, s=58, c=[SP_COLORS[s] for s in psp], edgecolors='black',
            linewidths=0.55, alpha=0.95, zorder=3)
draw_variables(axA)
set_labels(axA, 'Dim1 (18.3%)', 'Dim2 (15.4%)', (0.502, -0.0497), (-0.0436, 0.5), 20)

# ---- B: PCA coloured by age stage ----------------------------------------
axB = fig.add_axes(rect(1402, 87, 2515, 1168))
style_pca(axB, (-7.68, 7.74), (-7.67, 7.66), np.arange(-7, 8, 2), np.arange(-6, 7, 2))
for g, cx, cy, w, h, ang in zip(B_ELL_GROUPS, B_ELL_CX, B_ELL_CY, B_ELL_W, B_ELL_H, B_ELL_ANG):
    axB.add_patch(Ellipse((cx, cy), w, h, angle=ang, facecolor=AGE_ELL_COLORS_B[g],
                          edgecolor='none', alpha=0.13, zorder=1))
axB.scatter(px, py, s=58, c=[AGE_COLORS_B[a] for a in page], edgecolors='black',
            linewidths=0.55, alpha=0.95, zorder=3)
draw_variables(axB)
set_labels(axB, 'Dim1 (18.3%)', 'Dim2 (15.4%)', (0.497, -0.046), (-0.0366, 0.51), 21)

# ---- C: NMDS ---------------------------------------------------------------
axC = fig.add_axes(rect(2731, 47, 3918, 1187))
axC.set_xlim(-0.328, 0.330)
axC.set_ylim(-0.329, 0.328)
for sp, pts in zip(SPECIES, [NMDS_AS, NMDS_CS, NMDS_RT]):
    axC.scatter([p[0] for p in pts], [p[1] for p in pts], marker=SP_MARKERS_C[sp],
                s=SP_SIZES_C[sp], c=[AGE_COLORS_C[p[2]] for p in pts],
                edgecolors='none', alpha=0.85, zorder=3)
axC.set_xticks([-0.2, 0.0, 0.2], ['-0.2', '0.0', '0.2'])
axC.set_yticks([-0.2, 0.0, 0.2], ['-0.2', '0.0', '0.2'])
axC.tick_params(length=4, width=1, color='#333333', labelsize=13, labelcolor='#111111', pad=3)
for lbl in axC.get_xticklabels() + axC.get_yticklabels():
    lbl.set_family(ARIAL)
    lbl.set_fontweight('bold')
for s in axC.spines.values():
    s.set_color('#555555')
    s.set_linewidth(2.4)
set_labels(axC, 'NMDS1', 'NMDS2', (0.499, -0.041), (-0.047, 0.5025), 17, family=ARIAL)

# ---- overlay: legends, panel tags, stress text -----------------------------
ov = fig.add_axes([0, 0, 1, 1], zorder=10)
ov.set_xlim(0, W)
ov.set_ylim(H, 0)
ov.axis('off')
ov.patch.set_alpha(0)

pca_legend(ov, 1222, 354, [389, 416, 441], SPECIES,
           [SP_COLORS[s] for s in SPECIES], (1222, 535, 1253, 682), 514,
           734, [771, 796, 823, 848], 15, 11)
pca_legend(ov, 2543, 350, [389, 419, 449, 479], AGE_LABELS,
           [AGE_COLORS_B[a] for a in AGE_CODES], (2543, 570, 2573, 720), 544,
           773, [811, 841, 871, 902], 15.5, 11.5, clip_x=2660)

ov.text(3957, 470, 'Age range', fontsize=17, fontweight='bold', family=ARIAL,
        color='#1A1A1A', va='center')
for y, a, lab in zip([505, 538, 568, 598], AGE_CODES, AGE_LABELS):
    ov.scatter([3962], [y], s=80, c=[AGE_COLORS_C[a]], alpha=0.85, edgecolors='none')
    ov.text(3990, y, lab, fontsize=15, family=ARIAL, color='#222222', va='center')
ov.text(3948, 668, 'SP', fontsize=17, fontweight='bold', family=ARIAL,
        color='#1A1A1A', va='center')
for y, sp in zip([707, 737, 765], SPECIES):
    ov.scatter([3962], [y], s=80, marker=SP_MARKERS_C[sp], c='#333333', edgecolors='none')
    ov.text(3990, y, sp, fontsize=15, family=ARIAL, color='#222222', va='center')

ov.text(3833, 105, '2D Stress: 0,221', fontsize=20, fontweight='bold', family=ARIAL,
        ha='right', va='center', color='#111111')

panel_tag(ov, 112, 91, 96, 78, 'A')
panel_tag(ov, 1445, 82, 94, 79, 'B')
panel_tag(ov, 2752, 82, 94, 78, 'C')

fig.savefig('out.png', dpi=100, facecolor='white')
